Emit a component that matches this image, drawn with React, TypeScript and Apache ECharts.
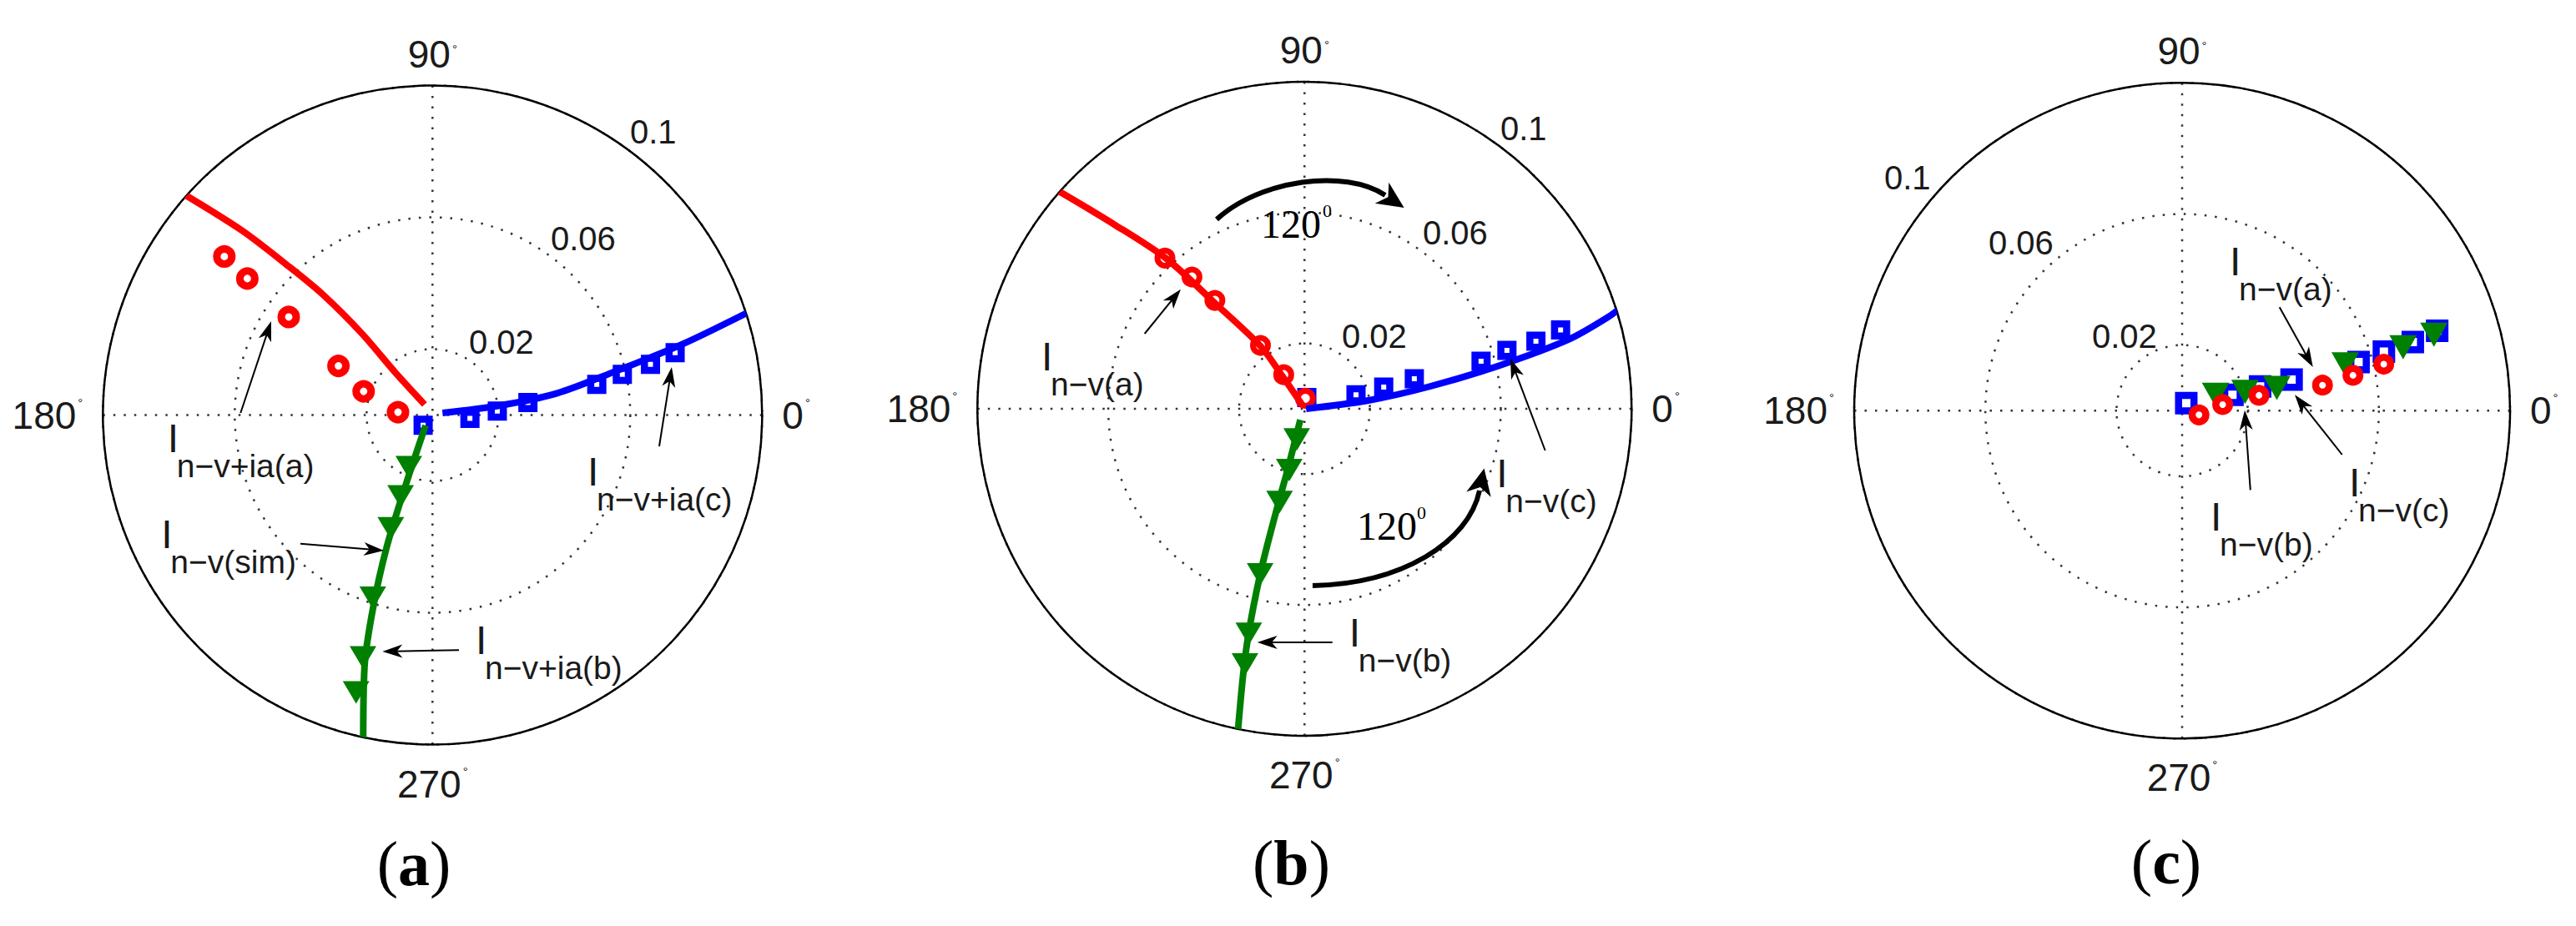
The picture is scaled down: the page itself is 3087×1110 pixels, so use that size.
import React, { useEffect, useRef } from "react";
import * as echarts from "echarts";

// ---------------- data: polar points [radius, angle in degrees] ----------------
// Panel (a)
const A_PHASE_A_SIM = [[0.004, 127], [0.0172, 131.2], [0.0327, 130.9], [0.0494, 132.3], [0.0625, 134.0], [0.0804, 135.9], [0.102, 138.5]];
const A_PHASE_A_MEAS = [[0.0794, 142.7], [0.0698, 143.6], [0.0528, 145.7], [0.0322, 152.4], [0.0221, 161.0], [0.0105, 175.3]];
const A_PHASE_C_SIM = [[0.0031, 12], [0.0201, 8], [0.0382, 9.9], [0.056, 13.3], [0.0786, 15.8], [0.1027, 18.2]];
const A_PHASE_C_MEAS = [[0.0042, 227.4], [0.0114, 354.9], [0.0197, 3.5], [0.0292, 7.5], [0.0507, 10.6], [0.0589, 12.1], [0.0679, 13.1], [0.076, 14.4]];
const A_PHASE_B_SIM = [[0.0038, 236.4], [0.0224, 249.0], [0.0426, 250.9], [0.0615, 252.9], [0.0792, 254.9], [0.1028, 258.2]];
const A_PHASE_B_MEAS = [[0.0174, 245.6], [0.0265, 248.6], [0.0366, 249.8], [0.0583, 251.9], [0.0765, 254.0], [0.0873, 254.6]];
// Panel (b)
const B_PHASE_A_SIM = [[0.001, 120], [0.012, 124.1], [0.0235, 125.1], [0.043, 130.4], [0.0623, 132.6], [0.081, 135.9], [0.1014, 138.6]];
const B_PHASE_A_MEAS = [[0.0032, 85.5], [0.0122, 121.4], [0.0236, 124.8], [0.043, 129.6], [0.053, 130.5], [0.0628, 132.8]];
const B_PHASE_C_SIM = [[0.0005, 0], [0.0197, 7.4], [0.0389, 10.1], [0.061, 12.5], [0.0835, 14.7], [0.0969, 16.8], [0.1023, 17.9]];
const B_PHASE_C_MEAS = [[0.0035, 78.5], [0.0163, 15.1], [0.0251, 15.3], [0.0348, 15.3], [0.0559, 15.1], [0.0644, 16.1], [0.0737, 16.3], [0.0819, 17.1]];
const B_PHASE_B_SIM = [[0.0036, 249], [0.0193, 254.5], [0.0295, 254.5], [0.0524, 255], [0.0761, 256.4], [0.1016, 258.4]];
const B_PHASE_B_MEAS = [[0.0097, 255.8], [0.0193, 256], [0.0295, 255], [0.0524, 255], [0.0709, 256.1], [0.0803, 256.9]];
// Panel (c)
const C_PHASE_C_MEAS = [[0.0026, 61], [0.0161, 17.6], [0.0249, 17.3], [0.0347, 15.9], [0.0558, 15.4], [0.0641, 16.3], [0.0734, 16.6], [0.0815, 17.4]];
const C_PHASE_B_MEAS = [[0.0113, 25.4], [0.02, 16.6], [0.0297, 13.5], [0.0517, 15.9], [0.0701, 16], [0.0802, 16.8]];
const C_PHASE_A_MEAS = [[0.0053, 346], [0.0125, 8.6], [0.0239, 11.3], [0.0435, 10.3], [0.0532, 11.7], [0.0631, 13]];

// axes
const ANGLE_MIN = 0;
const ANGLE_MAX = 360;
const ANGLE_STEP = 90;
const RADIUS_MAX = 0.1;
const RADIUS_STEP = 0.02;
const RADIUS_TICK_LABELS = ["0.02", "0.06", "0.1"];
const CAPTIONS = ["a", "b", "c"];

// ---------------- layout & style ----------------
const W = 3087;
const H = 1110;
const SANS = '"Liberation Sans", Arial, Helvetica, sans-serif';
const SERIF = '"Liberation Serif", "Times New Roman", serif';
const RED = "#ff0000";
const BLUE = "#0000ff";
const GREEN = "#008000";
const TEXT = "#1a1a1a";
const DOT = "#333333";

const PANELS = [
  { center: [518.3, 497.5], radius: 395 },
  { center: [1563.3, 490], radius: 392 },
  { center: [2615, 492.3], radius: 393 },
];

// radius tick label positions (left edge, vertical middle) per panel
const RADIUS_LABEL_POS = [
  [[562, 410], [660, 286], [755, 158]],
  [[1608, 403], [1705, 279], [1798, 154]],
  [[2507, 403], [2383, 291], [2258, 212.5]],
];
const CAPTION_POS = [[496, 1035], [1547.5, 1033.5], [2596, 1033]];

// current labels: [x of "I", y middle of "I", subscript]
const CURRENT_LABELS = [
  [200.7, 525.8, "n−v+ia(a)"],
  [193.3, 640, "n−v(sim)"],
  [570, 767.5, "n−v+ia(b)"],
  [704, 565, "n−v+ia(c)"],
  [1248, 427.5, "n−v(a)"],
  [1793.3, 567.5, "n−v(c)"],
  [1616.7, 758.3, "n−v(b)"],
  [2672, 313, "n−v(a)"],
  [2815, 578.5, "n−v(c)"],
  [2649, 619.3, "n−v(b)"],
];
// straight annotation arrows: tail -> tip
const ARROWS = [
  [288.3, 495, 325, 385],
  [360, 651.7, 460, 660],
  [550, 779.3, 458.3, 781],
  [790, 535, 805, 440],
  [1371.7, 400, 1415, 346.7],
  [1851.7, 540, 1810, 430],
  [1596.7, 770, 1506.7, 770],
  [2731.7, 368.3, 2771.7, 440],
  [2806.7, 545, 2750, 473.3],
  [2696.8, 587.4, 2690, 491.7],
];
// curved "120°" arrows in panel (b): start, cp1, cp2, end
const CURVED_ARROWS = [
  [1458, 263, 1510, 215, 1612, 202, 1660, 234],
  [1573, 702, 1680, 700, 1760, 650, 1773, 588],
];
// "120" texts: left, middle y, superscript dx, dy
const ANGLE_TEXTS = [
  [1511, 268, 74, -16, "120"],
  [1626, 630, 72, -16, "120"],
];

function arrowHead(tx: number, ty: number, ux: number, uy: number, len: number, wid: number) {
  const bx = tx - ux * len;
  const by = ty - uy * len;
  const px = -uy;
  const py = ux;
  const nx = tx - ux * len * 0.72;
  const ny = ty - uy * len * 0.72;
  return {
    type: "polygon",
    z: 100,
    shape: {
      points: [
        [tx, ty],
        [bx + (px * wid) / 2, by + (py * wid) / 2],
        [nx, ny],
        [bx - (px * wid) / 2, by - (py * wid) / 2],
      ],
    },
    style: { fill: "#000" },
  };
}

function straightArrow(x1: number, y1: number, x2: number, y2: number) {
  const len = Math.hypot(x2 - x1, y2 - y1);
  const ux = (x2 - x1) / len;
  const uy = (y2 - y1) / len;
  const hl = 24;
  return [
    {
      type: "line",
      z: 100,
      shape: { x1, y1, x2: x2 - ux * hl * 0.6, y2: y2 - uy * hl * 0.6 },
      style: { stroke: "#000", lineWidth: 2 },
    },
    arrowHead(x2, y2, ux, uy, hl, 16),
  ];
}

function curvedArrow(a: number[]) {
  const [x1, y1, c1x, c1y, c2x, c2y, x2, y2] = a;
  const dx = x2 - c2x;
  const dy = y2 - c2y;
  const l = Math.hypot(dx, dy);
  const ux = dx / l;
  const uy = dy / l;
  const hl = 32;
  const tx = x2 + ux * hl * 0.85;
  const ty = y2 + uy * hl * 0.85;
  return [
    {
      type: "bezierCurve",
      z: 100,
      shape: { x1, y1, cpx1: c1x, cpy1: c1y, cpx2: c2x, cpy2: c2y, x2, y2 },
      style: { stroke: "#000", lineWidth: 6, fill: "none" },
    },
    arrowHead(tx, ty, ux, uy, hl, 30),
  ];
}

function lineSeries(polarIndex: number, data: number[][], color: string, width: number) {
  return {
    type: "line",
    coordinateSystem: "polar",
    polarIndex,
    data,
    smooth: 0.3,
    showSymbol: false,
    clip: false,
    silent: true,
    lineStyle: { color, width, cap: "butt" },
    itemStyle: { color },
  };
}

function scatterSeries(
  polarIndex: number,
  data: number[][],
  symbol: string,
  size: number | number[],
  color: string,
  fill: string,
  border: number,
  rotate = 0
) {
  return {
    type: "scatter",
    coordinateSystem: "polar",
    polarIndex,
    data,
    symbol,
    symbolSize: size,
    symbolRotate: rotate,
    clip: false,
    silent: true,
    itemStyle: { color: fill, borderColor: color, borderWidth: border, opacity: 1 },
  };
}

function buildOption() {
  const polar = PANELS.map((p) => ({ center: p.center, radius: p.radius }));
  const angleAxis = PANELS.map((_, i) => ({
    polarIndex: i,
    type: "value",
    min: ANGLE_MIN,
    max: ANGLE_MAX,
    interval: ANGLE_STEP,
    startAngle: 0,
    clockwise: false,
    axisLine: { show: true, lineStyle: { color: "#000", width: 2.5 } },
    axisTick: { show: false },
    splitLine: { show: true, lineStyle: { color: DOT, width: 2.5, type: [2.5, 10] } },
    axisLabel: {
      margin: 24,
      formatter: (v: number) => {
        if (v >= ANGLE_MAX) return "";
        return v === 90 ? `{vt|${v}}{d|°}` : `{v|${v}}{d|°}`;
      },
      rich: {
        v: { fontSize: 46, fontFamily: SANS, color: TEXT },
        vt: { fontSize: 46, fontFamily: SANS, color: TEXT, lineHeight: 28 },
        d: { fontSize: 15, fontFamily: SANS, color: TEXT, verticalAlign: "top", padding: [0, 0, 0, 2] },
      },
    },
  }));
  const radiusAxis = PANELS.map((_, i) => ({
    polarIndex: i,
    type: "value",
    min: 0,
    max: RADIUS_MAX,
    interval: RADIUS_STEP,
    axisLine: { show: false },
    axisTick: { show: false },
    axisLabel: { show: false },
    splitLine: { show: true, lineStyle: { color: ["rgba(0,0,0,0)", DOT], width: 2.5, type: [2.5, 10] } },
  }));

  const series = [
    // (a)
    lineSeries(0, A_PHASE_A_SIM, RED, 8),
    scatterSeries(0, A_PHASE_A_MEAS, "circle", 18, RED, "#fff", 9),
    lineSeries(0, A_PHASE_C_SIM, BLUE, 8),
    scatterSeries(0, A_PHASE_C_MEAS, "rect", 14.5, BLUE, "#fff", 8.5),
    lineSeries(0, A_PHASE_B_SIM, GREEN, 8),
    scatterSeries(0, A_PHASE_B_MEAS, "triangle", [32, 27], GREEN, GREEN, 0, 180),
    // (b)
    lineSeries(1, B_PHASE_C_SIM, BLUE, 8),
    scatterSeries(1, B_PHASE_C_MEAS, "rect", 14.5, BLUE, "#fff", 8.5),
    lineSeries(1, B_PHASE_B_SIM, GREEN, 8),
    scatterSeries(1, B_PHASE_B_MEAS, "triangle", [32, 27], GREEN, GREEN, 0, 180),
    lineSeries(1, B_PHASE_A_SIM, RED, 8),
    scatterSeries(1, B_PHASE_A_MEAS, "circle", 18, RED, "#fff", 7),
    // (c)
    scatterSeries(2, C_PHASE_C_MEAS, "rect", 18.5, BLUE, "#fff", 8.5),
    scatterSeries(2, C_PHASE_B_MEAS, "triangle", [33, 29], GREEN, GREEN, 0, 180),
    scatterSeries(2, C_PHASE_A_MEAS, "circle", 16.5, RED, "#fff", 8.5),
  ];

  const graphic: any[] = [];
  // radius tick labels
  RADIUS_LABEL_POS.forEach((panel) =>
    panel.forEach(([x, y], k) =>
      graphic.push({
        type: "text",
        z: 100,
        x,
        y,
        style: { text: RADIUS_TICK_LABELS[k], font: `40px ${SANS}`, fill: TEXT, align: "left", verticalAlign: "middle" },
      })
    )
  );
  // current labels I_{...}
  CURRENT_LABELS.forEach(([x, y, sub]) => {
    graphic.push({
      type: "text",
      z: 100,
      x: x as number,
      y: y as number,
      style: { text: "I", font: `48px ${SANS}`, fill: TEXT, align: "left", verticalAlign: "middle" },
    });
    graphic.push({
      type: "text",
      z: 100,
      x: (x as number) + 11,
      y: (y as number) + 33,
      style: { text: sub as string, font: `39px ${SANS}`, fill: TEXT, align: "left", verticalAlign: "middle" },
    });
  });
  ARROWS.forEach(([x1, y1, x2, y2]) => graphic.push(...straightArrow(x1, y1, x2, y2)));
  CURVED_ARROWS.forEach((a) => graphic.push(...curvedArrow(a)));
  ANGLE_TEXTS.forEach(([x, y, sdx, sdy, t]) => {
    graphic.push({
      type: "text",
      z: 100,
      x: x as number,
      y: y as number,
      style: { text: t as string, font: `48px ${SERIF}`, fill: "#000", align: "left", verticalAlign: "middle" },
    });
    graphic.push({
      type: "text",
      z: 100,
      x: (x as number) + (sdx as number),
      y: (y as number) + (sdy as number),
      style: { text: "0", font: `22px ${SERIF}`, fill: "#000", align: "left", verticalAlign: "middle" },
    });
  });
  // captions
  CAPTIONS.forEach((c, i) =>
    graphic.push({
      type: "text",
      z: 100,
      x: CAPTION_POS[i][0],
      y: CAPTION_POS[i][1],
      style: {
        text: `{p|(}{b|${c}}{p|)}`,
        align: "center",
        verticalAlign: "middle",
        rich: {
          p: { fontFamily: SERIF, fontSize: 76, fill: "#000" },
          b: { fontFamily: SERIF, fontSize: 76, fontWeight: "bold", fill: "#000" },
        },
      },
    })
  );

  return {
    animation: false,
    backgroundColor: "#fff",
    polar,
    angleAxis,
    radiusAxis,
    series,
    graphic,
  };
}

export default function App() {
  const ref = useRef<HTMLDivElement>(null);
  useEffect(() => {
    if (!ref.current) return;
    const chart = echarts.init(ref.current, undefined, { renderer: "svg", width: W, height: H });
    chart.setOption(buildOption() as any);
    return () => chart.dispose();
  }, []);
  return (
    <div
      ref={ref}
      style={{ position: "absolute", left: 0, top: 0, width: W, height: H, background: "#fff" }}
    />
  );
}
